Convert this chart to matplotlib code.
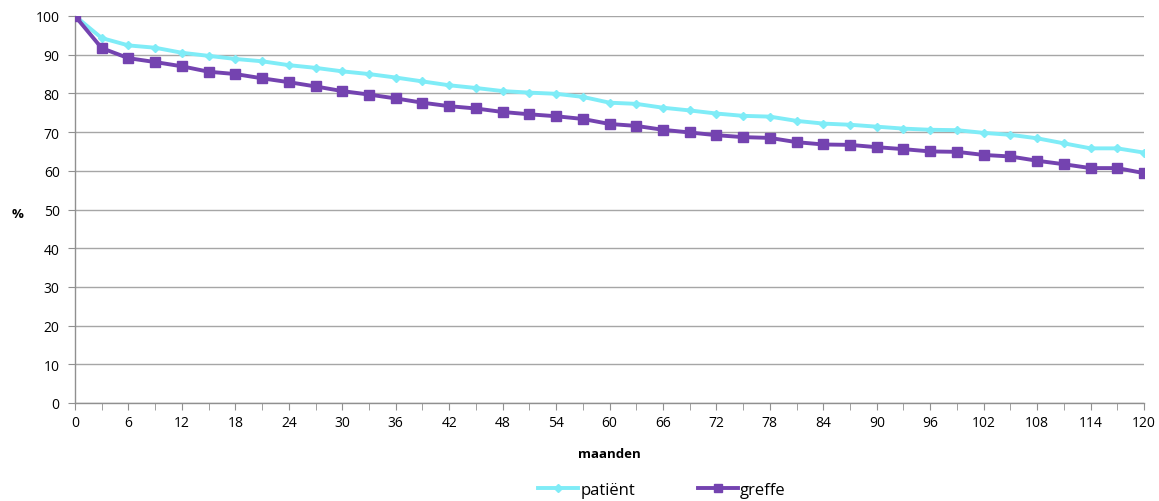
import matplotlib
matplotlib.use("Agg")
import matplotlib.pyplot as plt
from matplotlib.ticker import MultipleLocator

months = list(range(0, 121, 3))
patient = [100, 94.3, 92.4, 91.8, 90.5, 89.7, 88.9, 88.3, 87.3, 86.6, 85.7,
           85.0, 84.1, 83.1, 82.1, 81.4, 80.6, 80.2, 79.9, 79.1, 77.6,
           77.3, 76.3, 75.6, 74.8, 74.2, 74.0, 72.9, 72.2, 71.9, 71.4,
           70.9, 70.6, 70.5, 69.8, 69.3, 68.4, 67.1, 65.8, 65.8, 64.7]
greffe = [100, 91.7, 89.1, 88.1, 87.0, 85.6, 85.0, 83.9, 82.9, 81.8, 80.6,
          79.7, 78.7, 77.6, 76.7, 76.1, 75.2, 74.6, 74.1, 73.4, 72.1,
          71.6, 70.6, 69.9, 69.2, 68.7, 68.5, 67.4, 66.8, 66.7, 66.1,
          65.6, 65.0, 64.9, 64.1, 63.7, 62.6, 61.7, 60.7, 60.7, 59.4]
x_labels = [str(m) for m in range(0, 121, 6)]

plt.rcParams['font.family'] = ['Open Sans', 'DejaVu Sans']

fig = plt.figure(figsize=(11.59, 5.02), dpi=100)
ax = fig.add_axes([75/1159, 1-404/502, (1144-75)/1159, (404-17)/502])

cyan = '#7FECF7'
purple = '#7443B0'
ax.plot(months, patient, color=cyan, lw=2.8, marker='D', ms=4.5,
        mec=cyan, mfc=cyan, label='patiënt', zorder=3)
ax.plot(months, greffe, color=purple, lw=2.8, marker='s', ms=7,
        mec=purple, mfc=purple, label='greffe', zorder=4)

ax.set_xlim(0, 120)
ax.set_ylim(0, 100)
ax.xaxis.set_minor_locator(MultipleLocator(3))
ax.set_xticks(range(0, 121, 6))
ax.set_xticklabels(x_labels)
ax.yaxis.set_major_locator(MultipleLocator(10))
ax.grid(axis='y', color='#a6a6a6', lw=1)
ax.set_axisbelow(True)
for s in ['top', 'right']:
    ax.spines[s].set_visible(False)
for s in ['left', 'bottom']:
    ax.spines[s].set_color('#909090')
    ax.spines[s].set_linewidth(1)
ax.tick_params(axis='both', which='both', color='#909090', labelsize=10,
               direction='out')
ax.tick_params(axis='x', which='both', length=5, pad=4)
ax.tick_params(axis='y', length=5, pad=6)

ax.set_xlabel('maanden', fontsize=9.5, fontweight='bold', labelpad=12)
fig.text(18/1159, 1-215/502, '%', fontsize=9.5, fontweight='bold',
         ha='center', va='center')

leg = fig.legend(loc='center', bbox_to_anchor=(662/1159, 1-491/502), ncol=2,
                 frameon=False, fontsize=12, handlelength=2.4,
                 handletextpad=0.1, columnspacing=3.8, markerscale=0.8)

fig.savefig('out.png', dpi=100)
